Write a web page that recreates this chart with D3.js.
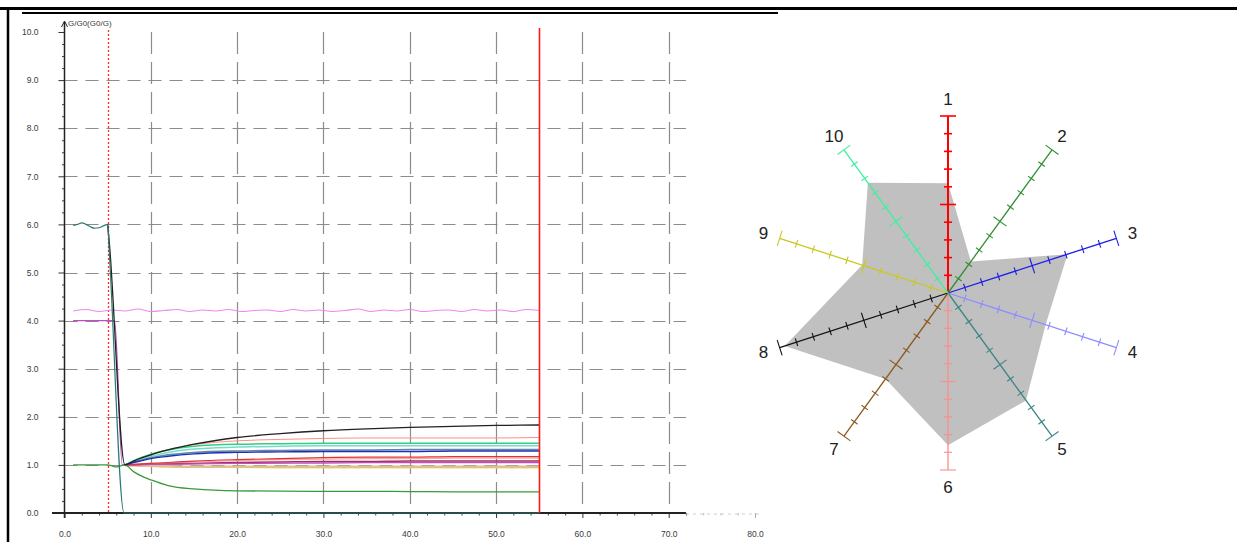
<!DOCTYPE html>
<html><head><meta charset="utf-8">
<script src="https://cdn.jsdelivr.net/npm/d3@7"></script>
<style>body{margin:0;background:#fff}svg{display:block}text{font-family:"Liberation Sans",Arial,sans-serif}</style>
</head><body>
<svg id="c" width="1237" height="542"></svg>
<script>
// ---------------- DATA ----------------
const yTickValues = [0,1,2,3,4,5,6,7,8,9,10];
const xTickValues = [0,10,20,30,40,50,60,70,80];
const yAxisTitle = "G/G0(G0/G)";
const markerDotted = 5;    // red dotted vertical marker
const markerSolid = 55;    // red solid vertical marker

// pink wavy line near 4.2
const tWave = [1,2.5,4,5.5,7,8.5,10,11.5,13,14.5,16,17.5,19,20.5,22,23.5,25,26.5,28,29.5,31,32.5,34,35.5,37,38.5,40,41.5,43,44.5,46,47.5,49,50.5,52,53.5,55];
const vWave = [4.20,4.23,4.19,4.22,4.20,4.24,4.19,4.21,4.23,4.19,4.22,4.20,4.23,4.19,4.21,4.22,4.19,4.23,4.20,4.22,4.19,4.21,4.24,4.19,4.22,4.20,4.23,4.19,4.21,4.22,4.19,4.23,4.20,4.22,4.19,4.23,4.21];

// magenta line at 4.0 that drops to ~1
const tMagenta = [1,5.8,6.7,8,10,15,20,30,40,55];
const vMagenta = [4.0,4.0,1.0,1.0,1.01,1.02,1.03,1.04,1.05,1.05];

// teal line near 6.0 that drops to 0
const tTeal = [1,1.5,2,2.5,3,3.5,4,4.5,5,5.2,6.9,20,40,55];
const vTeal = [5.98,6.0,6.03,6.0,5.95,5.92,5.93,5.97,6.0,5.4,0.0,0.0,0.0,0.0];

// black: drop from 6 then slow rise
const tBlack = [5,5.2,7,8,9,10,12,15,20,25,30,35,40,45,50,55];
const vBlack = [6.0,5.6,1.0,1.08,1.15,1.21,1.31,1.43,1.57,1.65,1.71,1.75,1.78,1.80,1.82,1.83];

// green: ~1.0 then decays to ~0.44
const tGreen = [1,2,3,4,5,5.5,6,6.5,7,8,9,10,12,15,20,25,30,35,40,45,50,55];
const vGreen = [1.0,1.0,1.0,1.0,1.0,0.98,0.96,0.98,1.0,0.86,0.76,0.69,0.57,0.50,0.46,0.455,0.45,0.45,0.445,0.44,0.44,0.44];

// the other responses, all starting from ~1.0 at t=7
const tPost = [7,8,9,10,12,15,20,25,30,35,40,45,50,55];
const vPink      = [1.0,1.08,1.15,1.22,1.32,1.42,1.50,1.53,1.55,1.56,1.56,1.56,1.56,1.57];
const vMint      = [1.0,1.09,1.16,1.22,1.31,1.39,1.43,1.44,1.45,1.45,1.45,1.45,1.45,1.45];
const vCyan      = [1.0,1.07,1.13,1.18,1.26,1.33,1.37,1.39,1.40,1.40,1.40,1.40,1.40,1.40];
const vGrayBlue  = [1.0,1.06,1.11,1.15,1.21,1.26,1.29,1.30,1.31,1.31,1.32,1.32,1.32,1.32];
const vDarkBlue  = [1.0,1.05,1.09,1.13,1.18,1.23,1.26,1.27,1.28,1.28,1.28,1.29,1.29,1.29];
const vRed       = [1.0,1.01,1.02,1.03,1.05,1.08,1.11,1.13,1.15,1.16,1.16,1.17,1.17,1.17];
const vLightPink = [1.0,1.01,1.02,1.03,1.04,1.06,1.09,1.11,1.12,1.13,1.13,1.14,1.14,1.14];
const vMaroon    = [1.0,1.0,1.01,1.01,1.02,1.03,1.05,1.06,1.07,1.07,1.08,1.08,1.08,1.08];
const vTan       = [1.0,0.99,0.98,0.98,0.97,0.96,0.96,0.96,0.96,0.96,0.96,0.96,0.96,0.96];
const vYellow    = [1.0,0.99,0.98,0.97,0.96,0.95,0.95,0.94,0.94,0.94,0.94,0.94,0.94,0.94];

// radar chart
const radarLabels = ["1","2","3","4","5","6","7","8","9","10"];
const radarValues = [6.2,2.2,7.1,5.8,7.5,8.6,6.0,9.7,5.1,7.7];
const radarMax = 10;

// ---------------- STYLE ----------------
const series = [
  {t:tPost, v:vYellow, c:"#f0dc7a", w:1.5},
  {t:tPost, v:vTan, c:"#e2c08e", w:2.5},
  {t:tPost, v:vLightPink, c:"#f2a8a8", w:1.2},
  {t:tPost, v:vMaroon, c:"#a03050", w:1.4},
  {t:tMagenta, v:vMagenta, c:"#c04cc8", w:1.3},
  {t:tPost, v:vRed, c:"#e03434", w:1.2},
  {t:tPost, v:vPink, c:"#ff8c8c", w:1.0},
  {t:tPost, v:vCyan, c:"#74dcc8", w:1.5},
  {t:tPost, v:vMint, c:"#2fd080", w:1.5},
  {t:tPost, v:vGrayBlue, c:"#6384a8", w:1.5},
  {t:tPost, v:vDarkBlue, c:"#1a2fb4", w:1.4},
  {t:tWave, v:vWave, c:"#ee88ee", w:1.1},
  {t:tGreen, v:vGreen, c:"#3a9a3a", w:1.3},
  {t:tBlack, v:vBlack, c:"#222222", w:1.3},
  {t:tTeal, v:vTeal, c:"#2a7a72", w:1.2}
];

const svg = d3.select("#c");

// ---------------- FRAME ----------------
svg.append("line").attr("x1",0).attr("x2",1237).attr("y1",8.5).attr("y2",8.5).attr("stroke","#000").attr("stroke-width",3);
svg.append("line").attr("x1",8).attr("x2",8).attr("y1",8).attr("y2",542).attr("stroke","#000").attr("stroke-width",2.5);
svg.append("line").attr("x1",22).attr("x2",778).attr("y1",13).attr("y2",13).attr("stroke","#000").attr("stroke-width",2);

// ---------------- LEFT CHART ----------------
const x = d3.scaleLinear().domain([0,80]).range([64.5,755]);
const y = d3.scaleLinear().domain([0,10]).range([513,32]);
const gridXMax = 72;

const g = svg.append("g");
// horizontal dashed grid
g.selectAll("line.hg").data(yTickValues.filter(d=>d>0&&d<10)).join("line")
  .attr("x1",x(0)).attr("x2",x(gridXMax)).attr("y1",d=>Math.round(y(d))+0.5).attr("y2",d=>Math.round(y(d))+0.5)
  .attr("stroke","#8c8c8c").attr("stroke-width",1.2).attr("stroke-dasharray","13,8");
// vertical dashed grid
g.selectAll("line.vg").data(xTickValues.filter(d=>d>0&&d<=70)).join("line")
  .attr("x1",d=>Math.round(x(d))+0.5).attr("x2",d=>Math.round(x(d))+0.5).attr("y1",y(10)).attr("y2",y(0))
  .attr("stroke","#8c8c8c").attr("stroke-width",1.2).attr("stroke-dasharray","22,8");

// dotted marker
const xd = Math.round(x(markerDotted))+0.5;
g.append("line").attr("x1",xd).attr("x2",xd).attr("y1",y(10)-2).attr("y2",y(0))
  .attr("stroke","#ff2a2a").attr("stroke-width",1.3).attr("stroke-dasharray","2,2");

// y axis
const yAxis = g.append("g").attr("transform",`translate(${x(0)},0)`)
  .call(d3.axisLeft(y).tickValues(yTickValues).tickFormat(d3.format(".1f")).tickSize(6).tickPadding(20));
yAxis.select(".domain").remove();
yAxis.selectAll("line").attr("stroke","#333");
yAxis.selectAll("text").attr("font-size",8.5).attr("fill","#3a3a3a");
const yMinor = g.append("g").attr("transform",`translate(${x(0)},0)`)
  .call(d3.axisLeft(y).tickValues(d3.range(0,10.01,0.25).filter(d=>d%1!==0)).tickFormat("").tickSize(2.5));
yMinor.select(".domain").remove();
yMinor.selectAll("line").attr("stroke","#444");
g.append("line").attr("x1",x(0)).attr("x2",x(0)).attr("y1",y(0)+5).attr("y2",22).attr("stroke","#222").attr("stroke-width",1.5);
g.append("path").attr("d",`M${x(0)-3},${27} L${x(0)},${21} L${x(0)+3},${27}`).attr("fill","none").attr("stroke","#222").attr("stroke-width",1);
g.append("text").attr("x",68).attr("y",26).attr("font-size",8).attr("fill","#3a3a3a").text(yAxisTitle);

// x axis
const xAxis = g.append("g").attr("transform",`translate(0,${y(0)})`)
  .call(d3.axisBottom(x).tickValues(xTickValues).tickFormat(d3.format(".1f")).tickSize(5).tickPadding(13));
xAxis.select(".domain").remove();
xAxis.selectAll("line").attr("stroke",d=>d<=70?"#333":"#aaa");
xAxis.selectAll("text").attr("font-size",8.5).attr("fill","#3a3a3a");
const xMinor = g.append("g").attr("transform",`translate(0,${y(0)})`)
  .call(d3.axisBottom(x).tickValues(d3.range(2,80,2).filter(d=>d%10!==0)).tickFormat("").tickSize(2.5));
xMinor.select(".domain").remove();
xMinor.selectAll("line").attr("stroke",d=>d<=gridXMax?"#444":"#bbb");
g.append("line").attr("x1",52).attr("x2",x(gridXMax)).attr("y1",y(0)).attr("y2",y(0)).attr("stroke","#222").attr("stroke-width",2);
g.append("line").attr("x1",x(gridXMax)).attr("x2",763).attr("y1",y(0)+1).attr("y2",y(0)+1).attr("stroke","#ccc").attr("stroke-width",1).attr("stroke-dasharray","3,4");

// series lines
const line = d3.line().curve(d3.curveMonotoneX);
g.selectAll("path.s").data(series).join("path").attr("class","s")
  .attr("d",s=>line(s.t.map((t,i)=>[x(t),y(s.v[i])])))
  .attr("fill","none").attr("stroke",s=>s.c).attr("stroke-width",s=>s.w);

const xs = Math.round(x(markerSolid))+0.5;
g.append("line").attr("x1",xs).attr("x2",xs).attr("y1",y(10)-4).attr("y2",y(0))
  .attr("stroke","#ff1a1a").attr("stroke-width",1.6);

// ---------------- RADAR ----------------
const cx = 948, cy = 293;
const r = d3.scaleLinear().domain([0,radarMax]).range([0,177]);
const axisColors = ["#ff0000","#2e8f2e","#1c1ce6","#8c8cff","#3d8585","#ff8c8c","#8b5a1e","#111111","#c8c820","#3ef0a0"];
const ang = i => i*2*Math.PI/radarLabels.length;
const pt = (i,v) => [cx + Math.sin(ang(i))*r(v), cy - Math.cos(ang(i))*r(v)];

const rg = svg.append("g");
rg.append("path").attr("d", d3.line()(radarValues.map((v,i)=>pt(i,v))) + "Z").attr("fill","#c0c0c0");

radarLabels.forEach((lab,i)=>{
  const col = axisColors[i];
  const [ex,ey] = pt(i,radarMax);
  rg.append("line").attr("x1",cx).attr("y1",cy).attr("x2",ex).attr("y2",ey)
    .attr("stroke",col).attr("stroke-width", i===0?2:1.3);
  const px = Math.cos(ang(i)), py = Math.sin(ang(i));
  d3.range(1,radarMax+1).forEach(k=>{
    const [tx,ty] = pt(i,k);
    const h = (k===5||k===radarMax) ? 8 : 4;
    rg.append("line").attr("x1",tx-px*h).attr("y1",ty-py*h).attr("x2",tx+px*h).attr("y2",ty+py*h)
      .attr("stroke",col).attr("stroke-width", i===0?1.6:1.1);
  });
  const [lx,ly] = [cx + Math.sin(ang(i))*194, cy - Math.cos(ang(i))*194];
  rg.append("text").attr("x",lx).attr("y",ly).attr("text-anchor","middle").attr("dominant-baseline","central")
    .attr("font-size",17).attr("fill","#222").text(lab);
});
</script>
</body></html>
